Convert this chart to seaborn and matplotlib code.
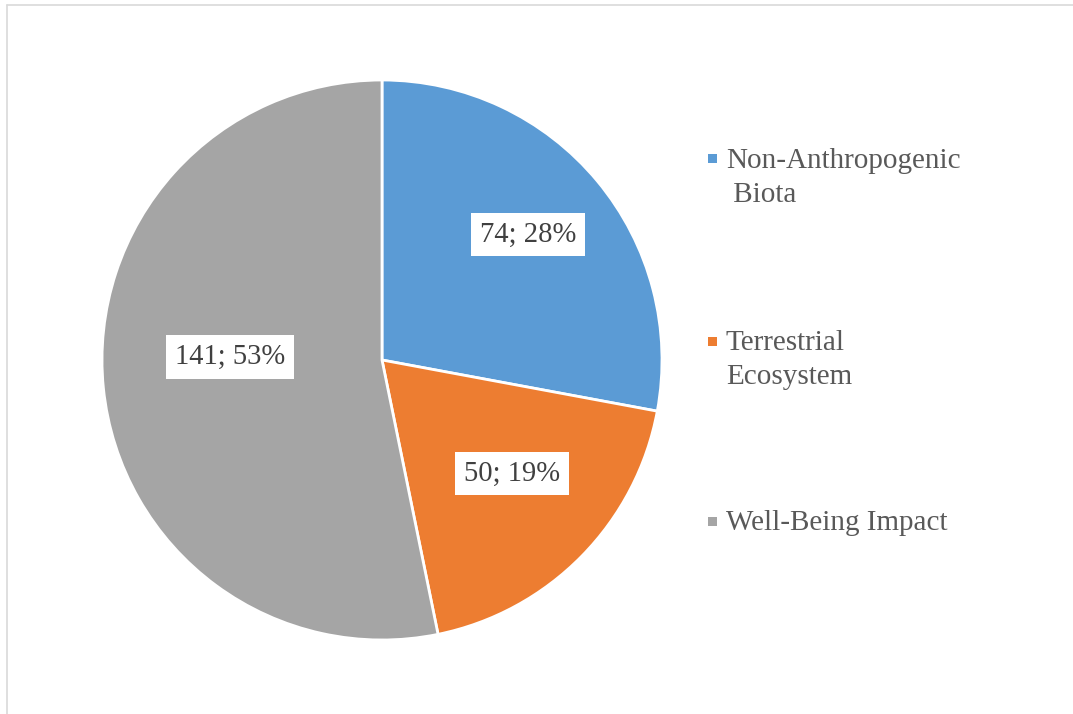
import matplotlib
matplotlib.use("Agg")
import matplotlib.pyplot as plt
from matplotlib.lines import Line2D
from matplotlib.patches import Rectangle
import numpy as np
import seaborn as sns

# Data
categories = ["Non-Anthropogenic\n Biota", "Terrestrial\nEcosystem", "Well-Being Impact"]
counts = [74, 50, 141]
percents = [28, 19, 53]

colors = ["#5B9BD5", "#ED7D31", "#A5A5A5"]
# label placement: distance from centre (fraction of radius) and angular nudge (deg)
label_dist = [0.686, 0.617, 0.543]
label_nudge = [0.9, 3.3, -6.9]

sns.set_theme(style="white")
plt.rcParams["font.family"] = ["Liberation Serif", "DejaVu Serif"]

W, H = 1073, 714
fig = plt.figure(figsize=(W / 100, H / 100), dpi=100)
fig.patch.set_facecolor("white")

# Pie axes: centre (382, 360) px, radius 280 px
cx, cy, r = 382, 360, 280
ax = fig.add_axes([(cx - r) / W, (H - cy - r) / H, 2 * r / W, 2 * r / H])
wedges, _ = ax.pie(counts, colors=colors, startangle=90, counterclock=False,
                   radius=1.0, wedgeprops=dict(edgecolor="white", linewidth=2))
ax.set_xlim(-1, 1)
ax.set_ylim(-1, 1)
ax.set_aspect("equal")
ax.axis("off")

# Data labels in white boxes
for w, n, p, d, a in zip(wedges, counts, percents, label_dist, label_nudge):
    mid = np.deg2rad((w.theta1 + w.theta2) / 2 + a)
    ax.text(d * np.cos(mid), d * np.sin(mid), f"{n}; {p}%",
            ha="center", va="center", fontsize=20.6, color="#404040",
            bbox=dict(boxstyle="square,pad=0.3", facecolor="white", edgecolor="none"))

# Legend on the right
def fx(px):
    return px / W

def fy(px):
    return 1 - px / H

baselines = [168, 350, 530]
marker_centres = [158.5, 341, 521.5]
line_step = 34
for lab, col, yb, ym in zip(categories, colors, baselines, marker_centres):
    fig.add_artist(Rectangle((fx(708), fy(ym + 4.5)), 9 / W, 9 / H,
                             transform=fig.transFigure, facecolor=col,
                             edgecolor="none"))
    for i, line in enumerate(lab.split("\n")):
        fig.text(fx(726), fy(yb + i * line_step), line, ha="left", va="baseline",
                 fontsize=21, color="#595959")

# Thin outer frame (top and left edges)
frame_col = "#D9D9D9"
fig.add_artist(Line2D([fx(7), 1], [fy(4.5), fy(4.5)], transform=fig.transFigure,
                      color=frame_col, linewidth=1.2))
fig.add_artist(Line2D([fx(7), fx(7)], [fy(4.5), 0], transform=fig.transFigure,
                      color=frame_col, linewidth=1.2))

fig.savefig("out.png", dpi=100, facecolor="white")
